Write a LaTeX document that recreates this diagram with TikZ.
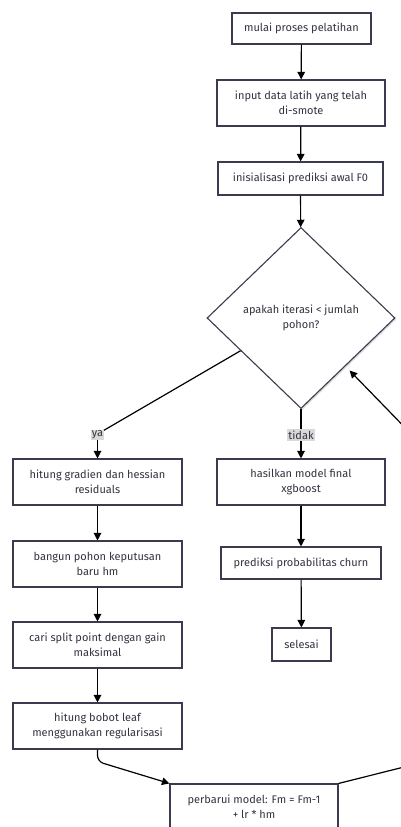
\documentclass[tikz,border=0pt]{standalone}
\usepackage{fontspec}
\setmainfont{Fira Sans}
\usetikzlibrary{arrows.meta,shapes.geometric,calc,shadows}
\definecolor{boxline}{HTML}{3B3B4F}
\definecolor{boxtext}{HTML}{333340}
\definecolor{lblfill}{HTML}{D9D9D9}
\tikzset{
  flowbox/.style={draw=boxline, line width=1.1pt, fill=white, text=boxtext,
    align=center, inner sep=0pt, font=\fontsize{11}{14.5}\selectfont,
    drop shadow={shadow xshift=1.4pt, shadow yshift=-1.4pt, fill=black!14, opacity=1}},
  decision/.style={flowbox, diamond, minimum width=188pt, minimum height=181pt},
  flowedge/.style={draw=black, line width=1.2pt, -{Triangle[length=7.5pt,width=7.5pt]}},
  plainedge/.style={draw=black, line width=1.2pt},
  edgelabel/.style={fill=lblfill, text=boxtext, inner sep=1.2pt, font=\fontsize{11}{12}\selectfont}
}
\begin{document}
\begin{tikzpicture}[x=1pt,y=-1pt]
\clip (0,0) rectangle (401,827);
\fill[white] (0,0) rectangle (401,827);

% main column
\node[flowbox, minimum width=139pt, minimum height=31pt] (start) at (301.5,28.5) {mulai proses pelatihan};
\node[flowbox, minimum width=168pt, minimum height=46pt] (input) at (301,103) {input data latih yang telah\\di-smote};
\node[flowbox, minimum width=165pt, minimum height=33pt] (init) at (300.5,178.5) {inisialisasi prediksi awal F0};
\node[decision] (check) at (301,318) {apakah iterasi < jumlah\\pohon?};

% "tidak" branch
\node[flowbox, minimum width=168pt, minimum height=46pt] (final) at (301,482) {hasilkan model final\\xgboost};
\node[flowbox, minimum width=160pt, minimum height=32pt] (prob) at (301,563) {prediksi probabilitas churn};
\node[flowbox, minimum width=59pt, minimum height=33pt] (done) at (301.5,644.5) {selesai};

% "ya" branch
\node[flowbox, minimum width=169pt, minimum height=46pt] (grad) at (97.5,482) {hitung gradien dan hessian\\residuals};
\node[flowbox, minimum width=169pt, minimum height=46pt] (tree) at (97.5,564) {bangun pohon keputusan\\baru hm};
\node[flowbox, minimum width=169pt, minimum height=46pt] (split) at (97.5,645) {cari split point dengan gain\\maksimal};
\node[flowbox, minimum width=169pt, minimum height=46pt] (leaf) at (97.5,726) {hitung bobot leaf\\menggunakan regularisasi};
\node[flowbox, minimum width=168pt, minimum height=46pt] (update) at (254,807) {perbarui model: Fm = Fm-1\\+ lr * hm};

% connectors
\draw[flowedge] (start) -- (input);
\draw[flowedge] (input) -- (init);
\draw[flowedge] (init) -- (check);

\coordinate (yesout) at ($(check.west)!0.36!(check.south)$);
\coordinate (yesbend) at (101,432);
\draw[plainedge] (yesout) -- (yesbend);
\draw[flowedge] (97.5,436) -- (grad.north);
\node[edgelabel] (yes) at (97.5,435) {ya};

\draw[flowedge] (check.south) -- (final.north);
\node[edgelabel] (no) at (301,435) {tidak};

\draw[flowedge] (final) -- (prob);
\draw[flowedge] (prob) -- (done);

\draw[flowedge] (grad) -- (tree);
\draw[flowedge] (tree) -- (split);
\draw[flowedge] (split) -- (leaf);
\draw[flowedge, rounded corners=6pt] (leaf.south) -- ++(0,12) -- (update.north west);

% loop back to the decision
\coordinate (loopin) at ($(check.east)!0.53!(check.south)$);
\coordinate (loopa) at (420,763);
\coordinate (loopb) at (420,443);
\draw[flowedge, shorten >=6pt] (update.north east) -- (loopa) -- (loopb) -- (loopin);
\end{tikzpicture}
\end{document}
